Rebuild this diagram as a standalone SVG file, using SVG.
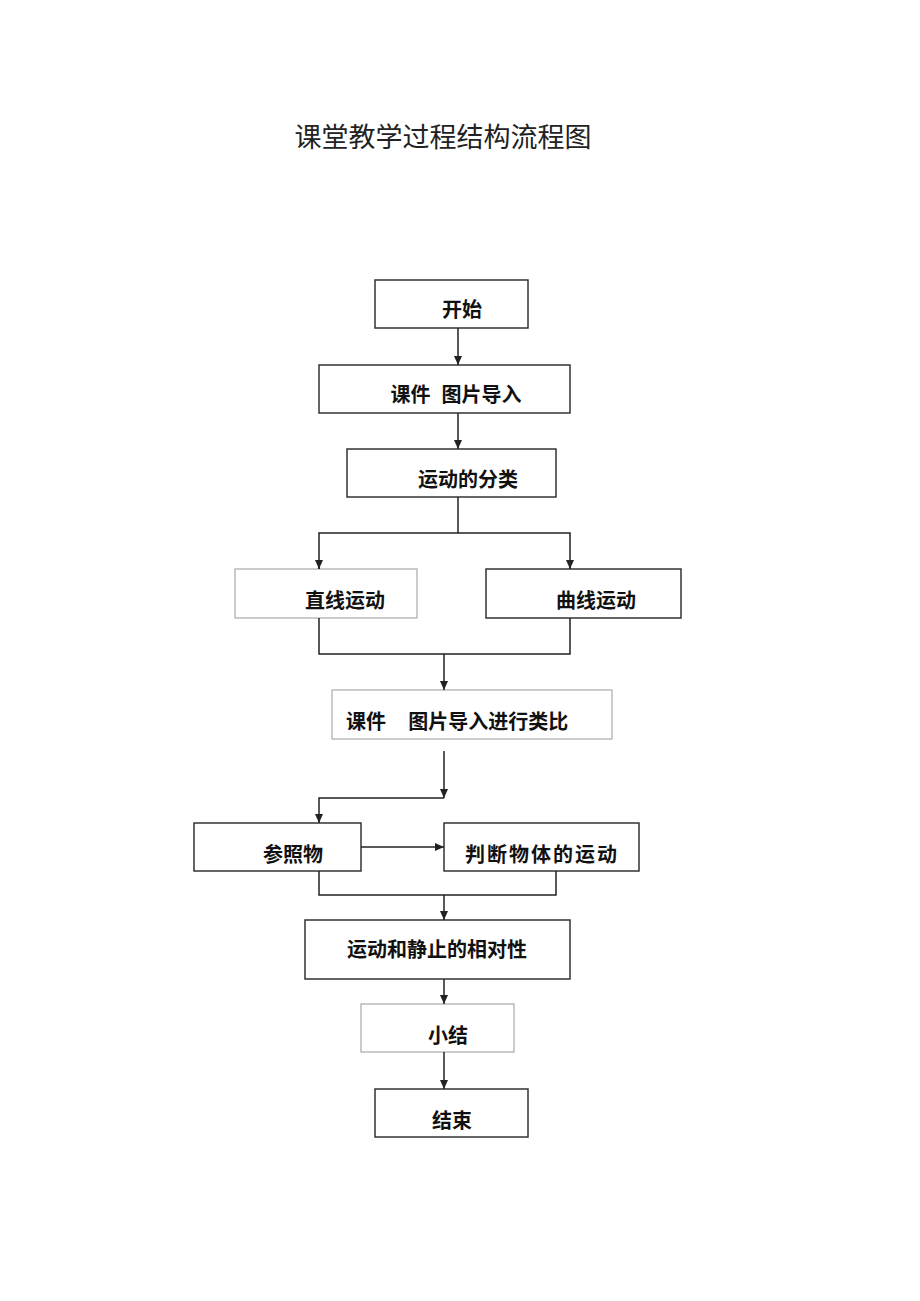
<svg xmlns="http://www.w3.org/2000/svg" width="920" height="1301" viewBox="0 0 920 1301">
<style>
.b{fill:#fff;stroke:#333;stroke-width:1.5}
.l{fill:#fff;stroke:#aaa;stroke-width:1.2}
.t{font-family:"Liberation Sans","Noto Sans CJK SC",sans-serif;font-size:20px;font-weight:bold;fill:#111}
.c{fill:none;stroke:#222;stroke-width:1.5}
</style>
<defs><marker id="a" markerWidth="10" markerHeight="10" refX="9" refY="5" orient="auto" markerUnits="userSpaceOnUse"><path d="M0,1 L9,5 L0,9 Z" fill="#222"/></marker></defs>
<rect width="920" height="1301" fill="#fff"/>
<text x="443" y="147" text-anchor="middle" style="font-family:'Liberation Serif','Noto Sans CJK SC',serif;font-size:27px;fill:#222">课堂教学过程结构流程图</text>
<g id="n1"><rect class="b" x="375" y="280" width="153" height="48"/><text class="t" x="462" y="317" text-anchor="middle">开始</text></g>
<g id="n2"><rect class="b" x="319" y="365" width="251" height="48"/><text class="t" x="456" y="402" text-anchor="middle" xml:space="preserve">课件  图片导入</text></g>
<g id="n3"><rect class="b" x="347" y="449" width="209" height="48"/><text class="t" x="468" y="487" text-anchor="middle">运动的分类</text></g>
<g id="n4"><rect class="l" x="235" y="569" width="182" height="49"/><text class="t" x="345" y="608" text-anchor="middle">直线运动</text></g>
<g id="n5"><rect class="b" x="486" y="569" width="195" height="49"/><text class="t" x="596" y="608" text-anchor="middle">曲线运动</text></g>
<g id="n6"><rect class="l" x="332" y="690" width="280" height="49"/><text class="t" x="346" y="729" xml:space="preserve">课件    图片导入进行类比</text></g>
<g id="n7"><rect class="b" x="194" y="823" width="167" height="48"/><text class="t" x="293" y="862" text-anchor="middle">参照物</text></g>
<g id="n8"><rect class="b" x="444" y="823" width="195" height="48"/><text class="t" x="542" y="862" text-anchor="middle" letter-spacing="2">判断物体的运动</text></g>
<g id="n9"><rect class="b" x="305" y="920" width="265" height="59"/><text class="t" x="437" y="957" text-anchor="middle">运动和静止的相对性</text></g>
<g id="n10"><rect class="l" x="361" y="1004" width="153" height="48"/><text class="t" x="448" y="1043" text-anchor="middle">小结</text></g>
<g id="n11"><rect class="b" x="375" y="1089" width="153" height="48"/><text class="t" x="452" y="1128" text-anchor="middle">结束</text></g>
<g id="connectors">
<path class="c" d="M458,328 V365" marker-end="url(#a)"/>
<path class="c" d="M458,413 V449" marker-end="url(#a)"/>
<path class="c" d="M458,497 V533"/>
<path class="c" d="M319,569 V533 H570 V569"/>
<path class="c" d="M319,560 V569" marker-end="url(#a)"/>
<path class="c" d="M570,560 V569" marker-end="url(#a)"/>
<path class="c" d="M319,618 V654 H570 V618"/>
<path class="c" d="M444,654 V690" marker-end="url(#a)"/>
<path class="c" d="M444,751 V798" marker-end="url(#a)"/>
<path class="c" d="M444,798 H319 V823" marker-end="url(#a)"/>
<path class="c" d="M361,847 H444" marker-end="url(#a)"/>
<path class="c" d="M319,871 V895 H556 V871"/>
<path class="c" d="M444,895 V920" marker-end="url(#a)"/>
<path class="c" d="M444,979 V1004" marker-end="url(#a)"/>
<path class="c" d="M444,1052 V1089" marker-end="url(#a)"/>
</g>
</svg>
